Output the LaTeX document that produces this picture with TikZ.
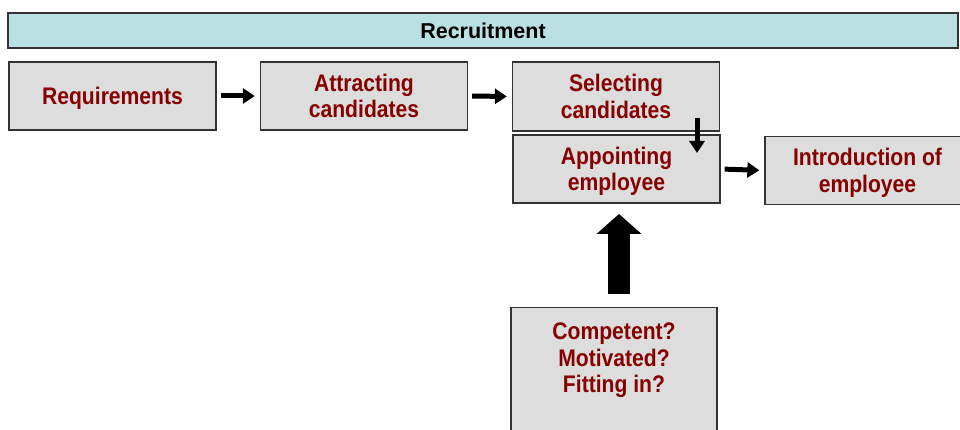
\documentclass[tikz,border=0pt]{standalone}
\usepackage{fontspec}
\setmainfont{Liberation Sans}
\newfontfamily\boxfont[FakeStretch=0.88]{Liberation Sans}
\usepackage{tikz}
\usetikzlibrary{arrows.meta}
\definecolor{boxgray}{HTML}{DDDDDD}
\definecolor{bannerblue}{HTML}{BAE0E3}
\definecolor{textred}{HTML}{860000}
\definecolor{edgegray}{HTML}{333333}
\tikzset{
    stepbox/.style={draw=edgegray,fill=boxgray,line width=1.3pt,minimum width=207pt,minimum height=68pt,
        align=center,text=textred,font=\boxfont\fontsize{24}{26.5}\selectfont\bfseries,
        text height=17.2pt,text depth=0pt},
    twoline/.style={text height=43.7pt},
    banner/.style={draw=edgegray,fill=bannerblue,line width=1.3pt,minimum width=950pt,minimum height=35pt,
        font=\fontsize{21.5}{24}\selectfont\bfseries,text height=15.4pt,text depth=0pt},
    smallarrow/.style={-{Triangle[length=12pt,width=15pt]},line width=5pt,black},
    bigarrow/.style={-{Triangle[length=20pt,width=44pt]},line width=22pt,black}
}
\begin{document}
\begin{tikzpicture}[x=1pt,y=-1pt]
\useasboundingbox (0,0) rectangle (960,430);
\node[banner] (recr) at (483,30.5) {Recruitment};
\node[stepbox] (req) at (112.5,96) {Requirements};
\node[stepbox,twoline] (attr) at (364,96) {Attracting\\candidates};
\node[stepbox,twoline,minimum height=69pt] (sel) at (616,96.5) {Selecting\\candidates};
\node[stepbox,twoline] (app) at (616.5,169) {Appointing\\employee};
\node[stepbox,twoline,minimum width=205pt] (intro) at (867.5,170.5) {Introduction of\\employee};
\node[stepbox,anchor=north,minimum width=206pt,text height=70.2pt,text depth=80pt,inner ysep=15pt] (comp) at (614,307) {Competent?\\Motivated?\\Fitting in?};
\coordinate (dtop) at (697,118);
\coordinate (dbot) at (697,153);
\coordinate (utail) at (619,294);
\coordinate (uhead) at (619,214);
\draw[smallarrow,shorten <=4pt,shorten >=5pt] (req.east) -- (attr.west);
\draw[smallarrow,shorten <=4pt,shorten >=5pt] (attr.east) -- (sel.west);
\draw[smallarrow] (dtop) -- (dbot);
\draw[smallarrow,shorten <=4pt,shorten >=5pt] (app.east) -- (intro.west);
\draw[bigarrow] (utail) -- (uhead);
\end{tikzpicture}
\end{document}
